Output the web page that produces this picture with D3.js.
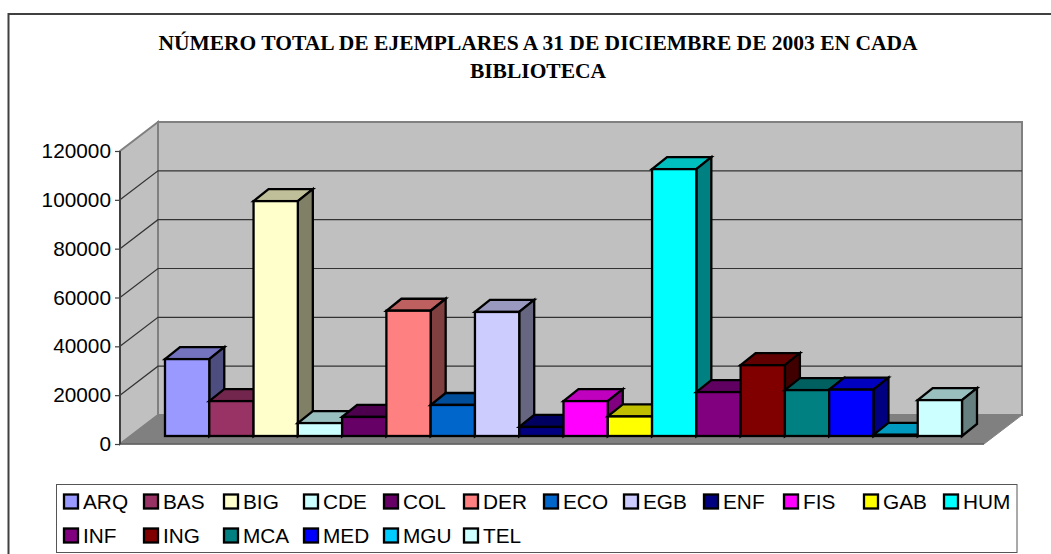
<!DOCTYPE html>
<html><head><meta charset="utf-8">
<script src="https://cdn.jsdelivr.net/npm/d3@7"></script>
<style>html,body{margin:0;padding:0;background:#fff}svg{display:block}</style>
</head><body><svg id="c" width="1051" height="554"></svg>
<script>
const titleLines = ["NÚMERO TOTAL DE EJEMPLARES A 31 DE DICIEMBRE DE 2003 EN CADA","BIBLIOTECA"];
const categories = ["ARQ","BAS","BIG","CDE","COL","DER","ECO","EGB","ENF","FIS","GAB","HUM","INF","ING","MCA","MED","MGU","TEL"];
const values = [31500,14300,96200,5300,7800,51300,12700,50800,3700,14300,8000,109300,18000,29000,18800,19000,500,14700];
const colors = ["#9999FF","#993366","#FFFFCC","#CCFFFF","#660066","#FF8080","#0066CC","#CCCCFF","#000080","#FF00FF","#FFFF00","#00FFFF","#800080","#800000","#008080","#0000FF","#00CCFF","#CCFFFF"];
const yTicks = [0,20000,40000,60000,80000,100000,120000];

const svg = d3.select("#c");
const sans = "'Liberation Sans',Arial,sans-serif";
const y = d3.scaleLinear().domain([0,120000]).range([444,151]);
const x = d3.scaleBand().domain(categories).range([165,962]).padding(0);
const color = d3.scaleOrdinal().domain(categories).range(colors);
const wallDx = 38, wallDy = 29, baseDy = 8, barDx = 15, barDy = 12;
const frontL = 120, frontR = 984;
const pts = a => a.map(p => p.join(",")).join(" ");
const shade = (c,k) => { const r = d3.rgb(c); return d3.rgb(r.r*k,r.g*k,r.b*k).formatHex(); };

// chart frame
svg.append("path").attr("d","M8.5,554V14H1051").attr("fill","none").attr("stroke","#404040").attr("stroke-width",2);

// title
svg.append("g").selectAll("text").data(titleLines).join("text")
  .attr("x",538).attr("y",(d,i)=>50+i*28).attr("text-anchor","middle")
  .attr("font-family","'Liberation Serif','Times New Roman',serif").attr("font-weight","bold")
  .attr("font-size",21.5).attr("fill","#000").text(d=>d);

// walls and floor
const y0=y(0), yT=y(120000);
svg.append("polygon").attr("points",pts([[frontL+wallDx,yT-wallDy],[frontR+wallDx,yT-wallDy],[frontR+wallDx,y0-wallDy],[frontL+wallDx,y0-wallDy]]))
  .attr("fill","#C0C0C0").attr("stroke","#808080").attr("stroke-width",2);
svg.append("polygon").attr("points",pts([[frontL,yT],[frontL+wallDx,yT-wallDy],[frontL+wallDx,y0-wallDy],[frontL,y0]]))
  .attr("fill","#C0C0C0").attr("stroke","#808080").attr("stroke-width",2);
svg.append("polygon").attr("points",pts([[frontL,y0],[frontR,y0],[frontR+wallDx,y0-wallDy],[frontL+wallDx,y0-wallDy]]))
  .attr("fill","#808080").attr("stroke","#808080").attr("stroke-width",1);

// gridlines
const grid = yTicks.filter(t=>t>0&&t<120000);
svg.append("g").selectAll("path").data(grid).join("path")
  .attr("d",t=>`M${frontL},${y(t)}L${frontL+wallDx},${y(t)-wallDy}H${frontR+wallDx}`)
  .attr("fill","none").attr("stroke","#333").attr("stroke-width",1.2);

// front axis edge of floor
svg.append("path").attr("d",`M${frontL},${y0}H${frontR}`).attr("stroke","#606060").attr("stroke-width",1.5);

// value axis
const axis = d3.axisLeft(y).tickValues(yTicks).tickFormat(d3.format("d")).tickSize(5).tickPadding(4);
const gAxis = svg.append("g").attr("transform",`translate(${frontL},0)`).call(axis);
gAxis.select(".domain").attr("stroke","#404040").attr("stroke-width",2).attr("d",`M0,${yT}V${y0}`);
gAxis.selectAll("line").attr("stroke","#404040").attr("stroke-width",1.2);
gAxis.selectAll("text").attr("font-family",sans).attr("font-size",20.8).attr("fill","#000");

// bars, painted left to right so each bar covers the side of its neighbour
const rows = categories.map((c,i)=>({c,v:values[i]}));
const base = y0 - baseDy;
const barTop = d => base - (y0 - y(d.v));
const bars = svg.append("g").attr("stroke","#000").attr("stroke-width",2.3).attr("stroke-linejoin","miter")
  .selectAll("g").data(rows).join("g");
bars.append("polygon").attr("points",d=>{const l=x(d.c),r=l+x.bandwidth(),t=barTop(d);return pts([[l,t],[r,t],[r+barDx,t-barDy],[l+barDx,t-barDy]]);}).attr("fill",d=>shade(color(d.c),.75));
bars.append("polygon").attr("points",d=>{const r=x(d.c)+x.bandwidth(),t=barTop(d);return pts([[r,t],[r+barDx,t-barDy],[r+barDx,base-barDy],[r,base]]);}).attr("fill",d=>shade(color(d.c),.5));
bars.append("rect").attr("x",d=>x(d.c)).attr("y",barTop).attr("width",x.bandwidth()).attr("height",d=>base-barTop(d)).attr("fill",d=>color(d.c));

// legend
svg.append("rect").attr("x",56.5).attr("y",484.5).attr("width",960.5).attr("height",68).attr("fill","#fff").attr("stroke","#555").attr("stroke-width",1);
const perRow = 12;
const legendX = d3.scaleLinear().domain([0,perRow]).range([64,1024]);
const legendY = d3.scaleLinear().domain([0,1]).range([501.5,535.5]);
const items = svg.append("g").selectAll("g").data(categories).join("g")
  .attr("transform",(d,i)=>`translate(${legendX(i%perRow)},${legendY(Math.floor(i/perRow))})`);
items.append("rect").attr("x",0).attr("y",-7).attr("width",14).attr("height",14).attr("fill",d=>color(d)).attr("stroke","#000").attr("stroke-width",2.3);
items.append("text").attr("x",19).attr("y",7.5).attr("font-family",sans).attr("font-size",20.8).attr("fill","#000").text(d=>d);
</script></body></html>
